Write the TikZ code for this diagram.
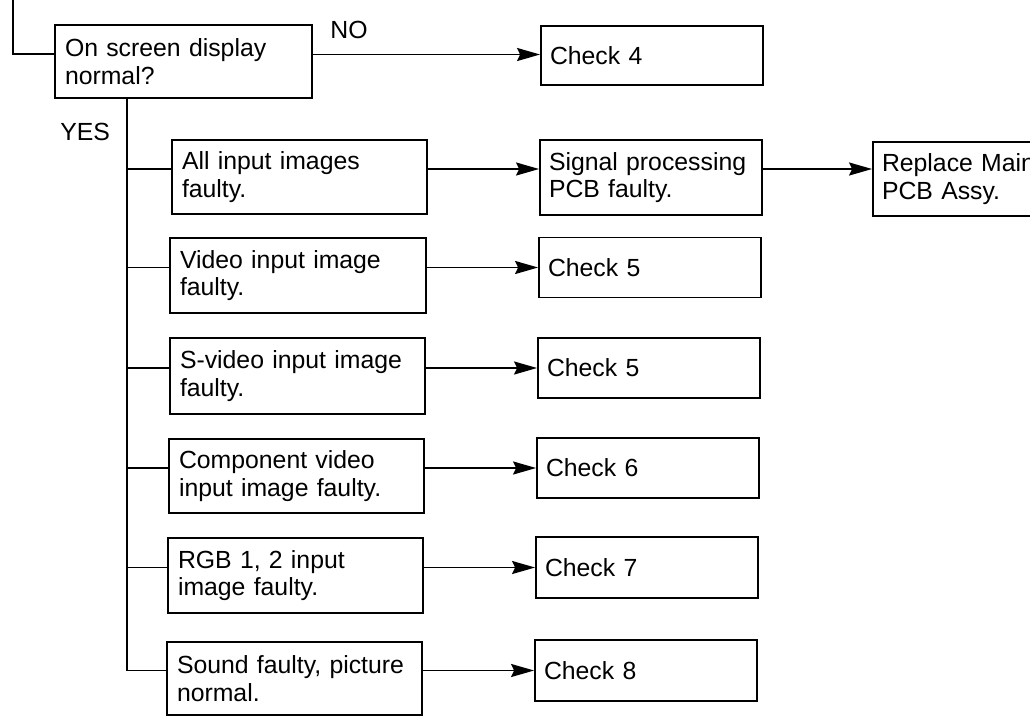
\documentclass[tikz,border=0pt]{standalone}
\usepackage{fontspec}
\setmainfont{Liberation Sans}
\usetikzlibrary{arrows.meta}
\begin{document}
\begin{tikzpicture}[x=0.5pt,y=-0.5pt,
  every node/.style={font=\fontsize{12.4}{13.9}\selectfont},
  box/.style={draw, line width=0.9pt, inner sep=0pt, align=left},
  conn/.style={line width=0.9pt},
  arr/.style={line width=0.9pt, -{Stealth[length=11.5pt,width=6.5pt,inset=1.5pt]}},
  lbl/.style={anchor=base west, inner sep=0pt}
]
\path[use as bounding box] (0,0) rectangle (1030,719);
\clip (0,0) rectangle (1030,719);

% left column
\node[box, minimum width=128.5pt, minimum height=36.5pt, text width=118.5pt] (main) at (183.5,61.5) {On screen display\\normal?};
\node[box, minimum width=127.5pt, minimum height=37pt, text width=117.5pt] (all) at (299.5,177) {All input images\\faulty.};
\node[box, minimum width=128pt, minimum height=37.5pt, text width=118pt] (vid) at (298,275.5) {Video input image\\faulty.};
\node[box, minimum width=127.5pt, minimum height=38pt, text width=117.5pt] (svid) at (297.5,376) {S-video input image\\faulty.};
\node[box, minimum width=127.5pt, minimum height=37pt, text width=117.5pt] (comp) at (296.5,476) {Component video\\input image faulty.};
\node[box, minimum width=127.5pt, minimum height=37.5pt, text width=117.5pt] (rgb) at (295.5,575.5) {RGB 1, 2 input\\image faulty.};
\node[box, minimum width=127.5pt, minimum height=36.5pt, text width=117.5pt] (snd) at (294.5,678.5) {Sound faulty, picture\\normal.};

% right column
\node[box, minimum width=111pt, minimum height=29.5pt, text width=102pt] (c4) at (652,55.5) {Check 4};
\node[box, minimum width=111pt, minimum height=37.5pt, text width=102pt] (sig) at (651,177.5) {Signal processing\\PCB faulty.};
\node[box, minimum width=111pt, minimum height=37pt, text width=102pt] (rep) at (984,179) {Replace Main\\PCB Assy.};
\node[box, minimum width=111pt, minimum height=30pt, text width=102pt] (c5a) at (650,267.5) {Check 5};
\node[box, minimum width=111pt, minimum height=30pt, text width=102pt] (c5b) at (649,368) {Check 5};
\node[box, minimum width=111pt, minimum height=30pt, text width=102pt] (c6) at (648,468) {Check 6};
\node[box, minimum width=111pt, minimum height=30.5pt, text width=102pt] (c7) at (647,567.5) {Check 7};
\node[box, minimum width=111pt, minimum height=30.5pt, text width=102pt] (c8) at (646,670.5) {Check 8};

% labels
\node[lbl] (no) at (330,38) {NO};
\node[lbl] (yes) at (60,140) {YES};

% top entry line
\coordinate (topin) at (13,-10);
\coordinate (min) at ([yshift=3.75pt]main.west);
\draw[conn] (topin) |- (min);

% NO arrow
\coordinate (mout) at ([yshift=3.5pt]main.east);
\draw[arr] (mout) -- (mout -| c4.west);

% trunk
\coordinate (tk) at ([xshift=-28.25pt]main.south);
\coordinate (bsnd) at ([yshift=4pt]snd.west);
\draw[conn] (tk) |- (bsnd);

\foreach \L/\R in {all/sig, vid/c5a, svid/c5b, comp/c6, rgb/c7, snd/c8}{
  \coordinate (b\L) at ([yshift=4pt]\L.west);
  \draw[conn] (b\L -| tk) -- (b\L);
  \draw[arr] (b\L -| \L.east) -- (b\L -| \R.west);
}
\draw[arr] (ball -| sig.east) -- (ball -| rep.west);
\end{tikzpicture}
\end{document}
